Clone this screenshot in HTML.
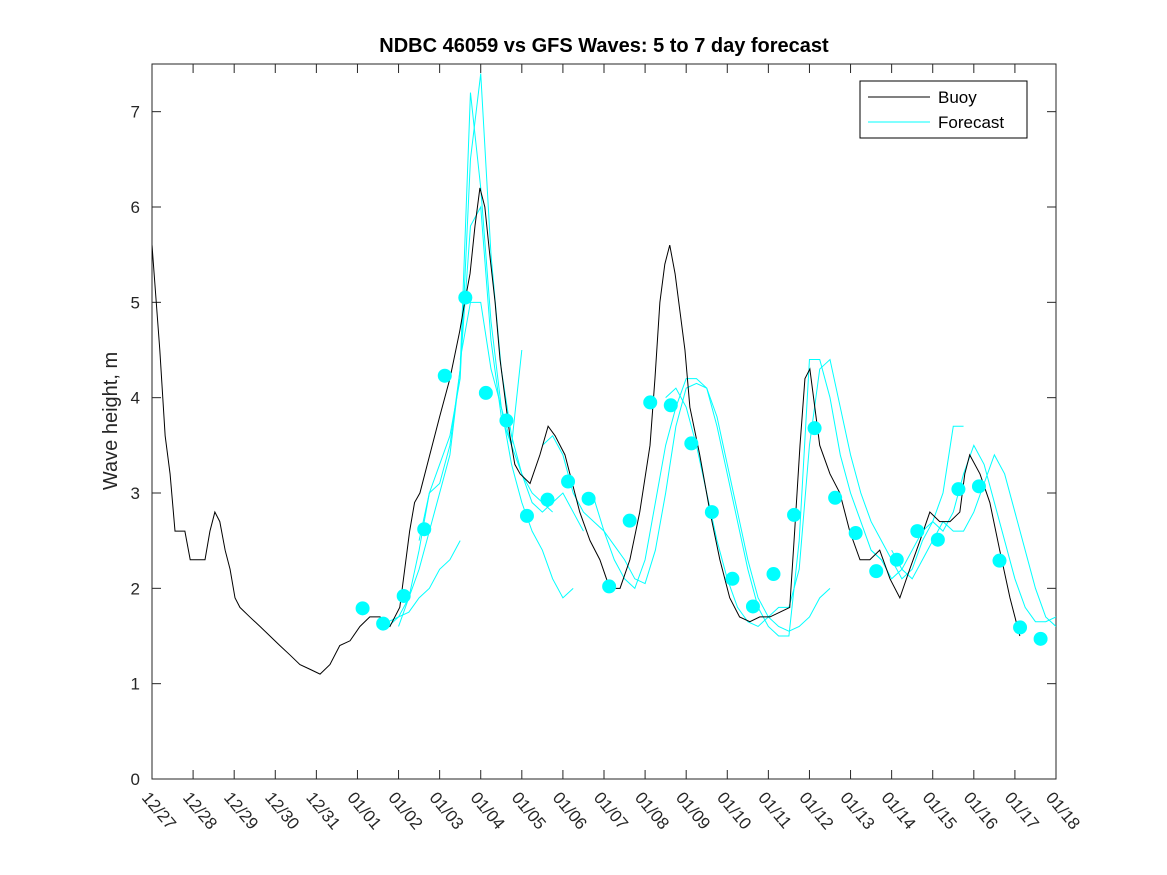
<!DOCTYPE html>
<html><head><meta charset="utf-8"><style>
body{margin:0;background:#fff;}
svg{display:block;font-family:"Liberation Sans","DejaVu Sans",sans-serif;}
</style></head><body>
<svg id="chart" width="1167" height="875" viewBox="0 0 1167 875">
<rect x="0" y="0" width="1167" height="875" fill="#fff"/>
<text x="604" y="52" text-anchor="middle" font-size="20" font-weight="bold" fill="#000">NDBC 46059 vs GFS Waves: 5 to 7 day forecast</text>
<text transform="translate(117,421) rotate(-90)" text-anchor="middle" font-size="20" fill="#262626">Wave height, m</text>
<g id="plot"></g>
<g>
<rect x="860" y="81" width="167" height="57" fill="#fff" stroke="#000" stroke-width="1"/>
<line x1="868" y1="97" x2="930" y2="97" stroke="#000" stroke-width="1"/>
<text x="938" y="103" font-size="17" fill="#000">Buoy</text>
<line x1="868" y1="122" x2="930" y2="122" stroke="#00ffff" stroke-width="1"/>
<text x="938" y="128" font-size="17" fill="#000">Forecast</text>
</g>
</svg>
<script>
const xTickLabels=["12/27","12/28","12/29","12/30","12/31","01/01","01/02","01/03","01/04","01/05","01/06","01/07","01/08","01/09","01/10","01/11","01/12","01/13","01/14","01/15","01/16","01/17","01/18"];
const yTicks=[0,1,2,3,4,5,6,7];
const buoyDays=[0,0.19,0.32,0.44,0.56,0.8,0.93,1.17,1.29,1.41,1.53,1.65,1.78,1.9,2.02,2.14,2.38,2.63,2.87,3.11,3.36,3.6,3.85,4.09,4.33,4.57,4.82,5.06,5.3,5.55,5.79,6.03,6.15,6.27,6.39,6.52,6.76,7.0,7.25,7.49,7.61,7.74,7.86,7.98,8.1,8.22,8.35,8.47,8.59,8.71,8.83,8.96,9.2,9.44,9.64,9.81,10.05,10.17,10.29,10.41,10.66,10.9,11.14,11.39,11.63,11.87,12.12,12.24,12.36,12.48,12.6,12.73,12.85,12.97,13.09,13.33,13.58,13.82,14.06,14.3,14.55,14.79,15.04,15.28,15.52,15.64,15.77,15.89,16.01,16.13,16.25,16.5,16.74,16.98,17.23,17.47,17.71,17.96,18.2,18.44,18.69,18.93,19.17,19.42,19.66,19.78,19.9,20.15,20.39,20.63,20.88,21.12];
const buoyValues=[5.6,4.5,3.6,3.2,2.6,2.6,2.3,2.3,2.3,2.6,2.8,2.7,2.4,2.2,1.9,1.8,1.7,1.6,1.5,1.4,1.3,1.2,1.15,1.1,1.2,1.4,1.45,1.6,1.7,1.7,1.6,1.8,2.2,2.6,2.9,3.0,3.4,3.8,4.2,4.7,5.0,5.3,5.8,6.2,6.0,5.5,5.0,4.4,4.0,3.6,3.3,3.2,3.1,3.4,3.7,3.6,3.4,3.2,3.0,2.8,2.5,2.3,2.0,2.0,2.3,2.8,3.5,4.2,5.0,5.4,5.6,5.3,4.9,4.5,3.9,3.4,2.8,2.3,1.9,1.7,1.65,1.7,1.7,1.75,1.8,2.6,3.5,4.2,4.3,3.9,3.5,3.2,3.0,2.6,2.3,2.3,2.4,2.1,1.9,2.2,2.5,2.8,2.7,2.7,2.8,3.2,3.4,3.2,2.9,2.4,1.9,1.5,1.35];
const dotStart=5.125, dotStep=0.5;
const dotValues=[1.79,1.63,1.92,2.62,4.23,5.05,4.05,3.76,2.76,2.93,3.12,2.94,2.02,2.71,3.95,3.92,3.52,2.80,2.10,1.81,2.15,2.77,3.68,2.95,2.58,2.18,2.30,2.60,2.51,3.04,3.07,2.29,1.59,1.47];
const fcStep=0.25;
const fcStarts=[5.5,5.75,6.0,6.5,7.5,9.5,10.75,12.5,18.0,17.5];
const fcA=[1.6,1.6,1.7,1.75,1.9,2.0,2.2,2.3,2.5];
const fcB=[1.65,1.7,1.9,2.2,2.6,3.0,3.4,4.3,7.2,6.2,4.8,3.9,3.3,2.9,2.6,2.4,2.1,1.9,2.0];
const fcC=[1.6,1.9,2.4,3.0,3.3,3.6,4.2,6.5,7.4,5.5,4.3,3.6,3.2,2.9,2.8,2.9,3.0,2.8,2.6];
const fcD=[2.5,3.0,3.1,3.5,4.3,5.8,6.0,4.6,3.8,3.5,4.5];
const fcE=[4.4,5.0,5.0,4.3,3.9,3.5,3.2,3.0,2.9,2.8];
const fcF=[3.5,3.6,3.4,3.0,2.8,2.7,2.6,2.45,2.3,2.1,2.05,2.4,3.0,3.7,4.1,4.15,4.1,3.8,3.3,2.8,2.3,1.9,1.7,1.6,1.55,1.6,1.7,1.9,2.0];
const fcG=[2.95,2.6,2.3,2.1,2.0,2.3,2.9,3.5,3.9,4.2,4.2,4.1,3.7,3.2,2.7,2.2,1.8,1.6,1.5,1.5,2.5,4.4,4.4,4.0,3.4,3.0,2.7,2.4,2.3];
const fcH=[4.0,4.1,3.9,3.5,3.0,2.5,2.1,1.8,1.65,1.6,1.7,1.8,1.8,2.2,3.5,4.3,4.4,3.9,3.4,3.0,2.7,2.5,2.3,2.1,2.2,2.5,2.7,3.0,3.7,3.7];
const fcI=[2.4,2.2,2.1,2.3,2.5,2.7,2.6,2.6,2.8,3.1,3.4,3.2,2.8,2.4,2.0,1.7,1.6];
const fcJ=[2.4,2.3,2.1,2.2,2.4,2.6,2.7,2.6,2.8,3.2,3.5,3.3,2.9,2.5,2.1,1.8,1.65,1.65,1.7];
const fcSeries=[fcA,fcB,fcC,fcD,fcE,fcF,fcG,fcH,fcI,fcJ];

const L=152,R=1056,T=64,B=779,X0=0,X1=22,Y0=0,Y1=7.5;
const sx=d=>L+(d-X0)/(X1-X0)*(R-L);
const sy=v=>B-(v-Y0)/(Y1-Y0)*(B-T);
const NS="http://www.w3.org/2000/svg";
const plot=document.getElementById('plot');
function mk(t,a,p){const e=document.createElementNS(NS,t);for(const k in a)e.setAttribute(k,a[k]);(p||plot).appendChild(e);return e;}
const defs=mk('defs',{});const cp=mk('clipPath',{id:'clip'},defs);mk('rect',{x:L,y:T,width:R-L,height:B-T},cp);
const frame=mk('rect',{x:L,y:T,width:R-L,height:B-T,fill:'#fff',stroke:'#262626','stroke-width':1});


xTickLabels.forEach((lab,i)=>{const x=sx(i);
 mk('line',{x1:x,y1:B,x2:x,y2:B-9,stroke:'#262626'});mk('line',{x1:x,y1:T,x2:x,y2:T+9,stroke:'#262626'});
 const t=mk('text',{x:0,y:0,transform:`translate(${x-11},${B+19}) rotate(50)`,'font-size':17,fill:'#262626'});t.textContent=lab;
 
 });
yTicks.forEach(v=>{const y=sy(v);
 mk('line',{x1:L,y1:y,x2:L+9,y2:y,stroke:'#262626'});mk('line',{x1:R,y1:y,x2:R-9,y2:y,stroke:'#262626'});
 const t=mk('text',{x:L-12,y:y+6,'text-anchor':'end','font-size':17,fill:'#262626'});t.textContent=v;
 
 });
const g=mk('g',{'clip-path':'url(#clip)'});
fcSeries.forEach((s,k)=>{const pts=s.map((v,i)=>sx(fcStarts[k]+i*fcStep)+','+sy(v)).join(' ');
 const p=mk('polyline',{points:pts,fill:'none',stroke:'#00ffff','stroke-width':1},g);
 
 });
const bp=mk('polyline',{points:buoyDays.map((d,i)=>sx(d)+','+sy(buoyValues[i])).join(' '),fill:'none',stroke:'#000','stroke-width':1},g);


dotValues.forEach((v,i)=>{const c=mk('circle',{cx:sx(dotStart+i*dotStep),cy:sy(v),r:7,fill:'#00ffff'},g);
 
 });
</script>
</body></html>
